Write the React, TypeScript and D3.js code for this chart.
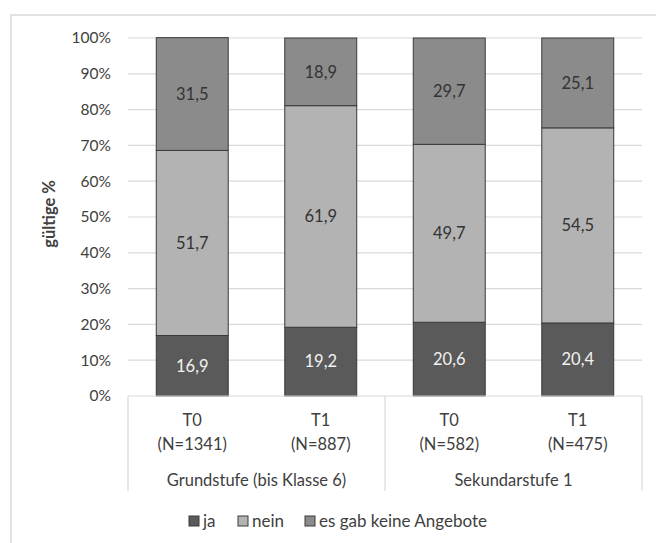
import React from "react";
import * as d3 from "d3";

const categories = ["G-T0", "G-T1", "S-T0", "S-T1"];
const tickLine1 = ["T0", "T1", "T0", "T1"];
const tickLine2 = ["(N=1341)", "(N=887)", "(N=582)", "(N=475)"];
const groups = ["Grundstufe (bis Klasse 6)", "Sekundarstufe 1"];
const groupSpan = [2, 2];
const ja = [16.9, 19.2, 20.6, 20.4];
const nein = [51.7, 61.9, 49.7, 54.5];
const keine = [31.5, 18.9, 29.7, 25.1];
const seriesNames = ["ja", "nein", "es gab keine Angebote"];
const yTicks = [0, 10, 20, 30, 40, 50, 60, 70, 80, 90, 100];

const colors = ["#5a5a5a", "#b3b3b3", "#8b8b8b"];
const labelColors = ["#f2f2f2", "#333333", "#333333"];
const FONT = "Lato, 'Open Sans', sans-serif";

export default function App() {
  const W = 656, H = 543;
  const left = 128, right = 642, top = 38, bottom = 396;
  const x = d3.scaleBand<string>().domain(categories).range([left, right]).paddingInner(0.44).paddingOuter(0.22);
  const y = d3.scaleLinear().domain([0, 100]).range([bottom, top]);

  const rows = categories.map((c, i) => ({ c, ja: ja[i], nein: nein[i], keine: keine[i] }));
  const stack = d3.stack<any>().keys(["ja", "nein", "keine"])(rows);

  const step = (right - left) / categories.length;
  let acc = 0;
  const groupBounds = groups.map((g, i) => {
    const s = acc;
    acc += groupSpan[i];
    return { g, x0: left + s * step, x1: left + acc * step };
  });

  const fmt = (v: number) => v.toFixed(1).replace(".", ",");

  const legendItems = [
    { name: seriesNames[0], x: 189 },
    { name: seriesNames[1], x: 238 },
    { name: seriesNames[2], x: 305 },
  ];
  const fs = 16.5;

  return (
    <svg width={W} height={H} style={{ position: "absolute", left: 0, top: 0 }} fontFamily={FONT}>
      <rect x={0} y={0} width={W} height={H} fill="#fff" />
      <rect x={11} y={15} width={700} height={600} fill="none" stroke="#d9d9d9" strokeWidth={1.5} />
      {yTicks.map((t) => (
        <g key={t}>
          {t > 0 && <line x1={left} x2={right} y1={y(t)} y2={y(t)} stroke="#d9d9d9" strokeWidth={1.2} />}
          <text x={111} y={y(t)} dy="0.35em" textAnchor="end" fontSize={15.5} fill="#404040">{t}%</text>
        </g>
      ))}
      {stack.map((layer, si) =>
        layer.map((d, i) => {
          const x0 = x(categories[i])!;
          const y0 = y(d[1]);
          const y1 = y(d[0]);
          return (
            <g key={si + "-" + i}>
              <rect x={x0} y={y0} width={x.bandwidth()} height={y1 - y0} fill={colors[si]} stroke="#3a3a3a" strokeWidth={1} />
              <text x={x0 + x.bandwidth() / 2} y={(y0 + y1) / 2} dy="0.35em" textAnchor="middle" fontSize={fs} fill={labelColors[si]}>
                {fmt(d[1] - d[0])}
              </text>
            </g>
          );
        })
      )}
      <line x1={left} x2={right} y1={bottom} y2={bottom} stroke="#d9d9d9" strokeWidth={1.2} />
      {[left, ...groupBounds.map((g) => g.x1)].map((xx, i) => (
        <line key={i} x1={xx} x2={xx} y1={bottom} y2={491} stroke="#d9d9d9" strokeWidth={1.2} />
      ))}
      {categories.map((c, i) => (
        <g key={c}>
          <text x={x(c)! + x.bandwidth() / 2} y={420} dy="0.35em" textAnchor="middle" fontSize={fs} fill="#404040">{tickLine1[i]}</text>
          <text x={x(c)! + x.bandwidth() / 2} y={444} dy="0.35em" textAnchor="middle" fontSize={fs} fill="#404040">{tickLine2[i]}</text>
        </g>
      ))}
      {groupBounds.map((g) => (
        <text key={g.g} x={(g.x0 + g.x1) / 2} y={480} dy="0.35em" textAnchor="middle" fontSize={fs} fill="#404040">{g.g}</text>
      ))}
      <text transform="translate(49,214) rotate(-90)" textAnchor="middle" dy="0.35em" fontSize={16.5} fontWeight="bold" fill="#404040">gültige %</text>
      {legendItems.map((l, i) => (
        <g key={l.name}>
          <rect x={l.x} y={516} width={10} height={10} fill={colors[i]} stroke="#3a3a3a" strokeWidth={1} />
          <text x={l.x + 14} y={521} dy="0.35em" fontSize={17} fill="#404040">{l.name}</text>
        </g>
      ))}
    </svg>
  );
}
